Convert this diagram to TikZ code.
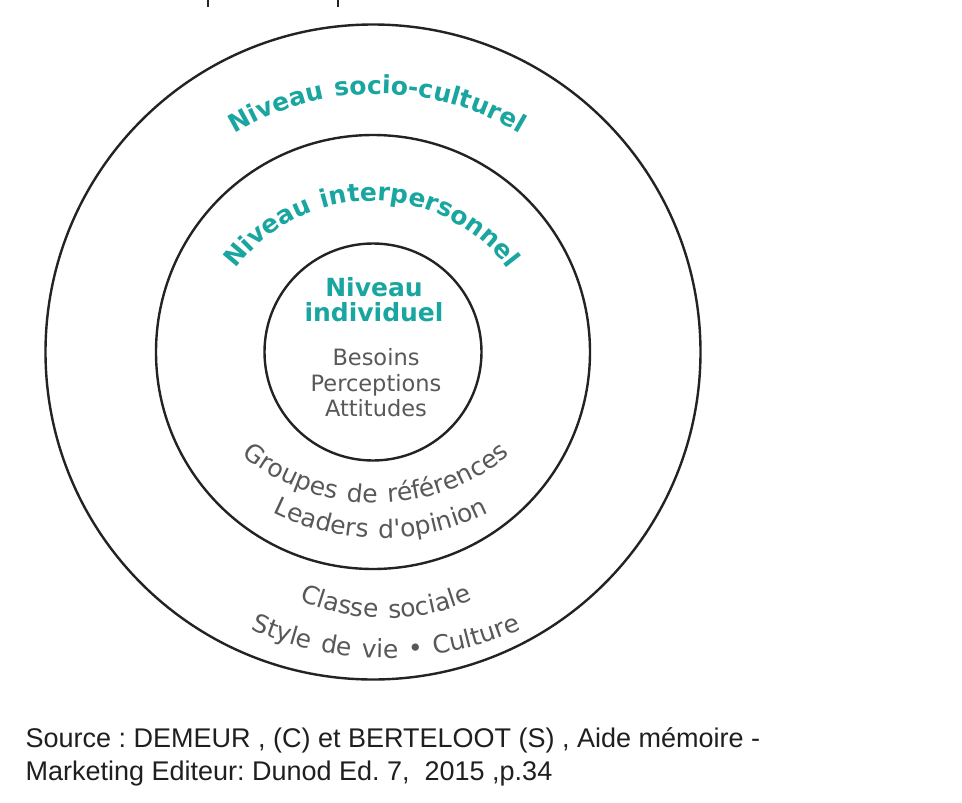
\documentclass[tikz,border=0pt]{standalone}
\usepackage{fontspec}
\setmainfont{DejaVu Sans}
\newfontfamily\srcfont{Liberation Sans}
\newfontfamily\arcfont[LetterSpace=6]{DejaVu Sans}
\newfontfamily\itemarcfont[LetterSpace=10]{DejaVu Sans}
\usetikzlibrary{decorations.text}
\definecolor{levelteal}{RGB}{26,166,160}
\definecolor{itemgray}{RGB}{88,88,88}
\definecolor{ringcol}{RGB}{35,35,35}
\newcommand{\levelfont}{\arcfont\bfseries\fontsize{25}{25}\selectfont}
\newcommand{\itemfont}{\itemarcfont\fontsize{25}{25}\selectfont}

\begin{document}
\begin{tikzpicture}[x=1pt,y=1pt,
  ring/.style={draw=ringcol, line width=2.4pt},
  leveltext/.style={decorate, decoration={text along path, text align=center,
      text color=levelteal, text={|\levelfont|#1}}},
  itemtext/.style={decorate, decoration={text along path, text align=center,
      text color=itemgray, text={|\itemfont|#1}}},
  centerlevel/.style={font=\bfseries\fontsize{25}{27}\selectfont, text=levelteal, align=center},
  centeritems/.style={font=\fontsize{22.5}{25.5}\selectfont, text=itemgray, align=center},
  source/.style={font=\srcfont\frenchspacing\fontsize{27}{33}\selectfont, text=black!88, anchor=base west}]
\useasboundingbox (0,0) rectangle (962,-803);
\fill[white] (0,0) rectangle (962,-803);

% three concentric rings
\coordinate (c) at (373,-352);
\draw[ring] (c) circle[radius=327.5];
\draw[ring] (c) circle[radius=217];
\draw[ring] (c) circle[radius=108.5];

% remains of a line cut off at the top edge
\draw[ringcol, line width=1.6pt] (208,0) -- (208,-7);
\draw[ringcol, line width=1.6pt] (338,0) -- (338,-7);

% curved level titles
\path[leveltext={Niveau socio-culturel}]
  ([shift={(377,-372)}]170:278) arc[start angle=170, end angle=10, radius=278];
\path[leveltext={Niveau interpersonnel}]
  ([shift={(372,-371)}]179:170) arc[start angle=179, end angle=1, radius=170];

% curved items of the outer rings
\path[itemtext={Groupes de références}]
  ([shift={(376,-292)}]182:211) arc[start angle=182, end angle=358, radius=211];
\path[itemtext={Leaders d'opinion}]
  ([shift={(381,-295)}]205:243) arc[start angle=205, end angle=335, radius=243];
\path[itemtext={Classe sociale}]
  ([shift={(386,-398)}]205:220) arc[start angle=205, end angle=335, radius=220];
\path[itemtext={Style de vie • Culture}]
  ([shift={(386,-322)}]212:336) arc[start angle=212, end angle=328, radius=336];

% inner circle
\node[centerlevel] (indiv) at (374,-300) {Niveau\\[-2pt]individuel};
\node[centeritems] (needs) at (376,-383) {Besoins\\Perceptions\\Attitudes};

% source line
\node[source] (src1) at (22,-747) {Source : DEMEUR , (C) et BERTELOOT (S) , Aide mémoire -};
\node[source] (src2) at (22,-780) {Marketing Editeur: Dunod Ed. 7,\ \ 2015 ,p.34};
\end{tikzpicture}
\end{document}
